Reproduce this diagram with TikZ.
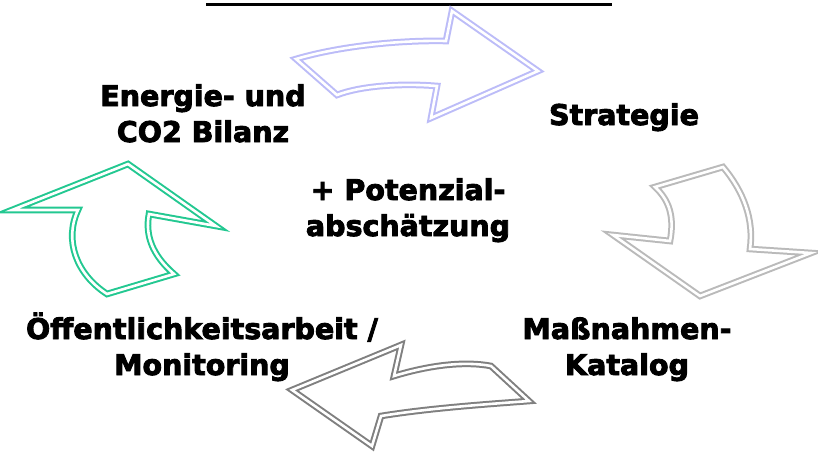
\documentclass[tikz,border=0pt]{standalone}
\usepackage{fontspec}
\setmainfont{DejaVu Sans}
\newfontfamily\heavyfont{DejaVu Sans Bold}[FakeBold=3]
\begin{document}
\begin{tikzpicture}[x=1pt,y=-1pt,
  arrowshape/.style={line width=2pt, double=white, double distance=2.6pt, line join=miter},
  label/.style={font=\heavyfont\fontsize{28.5}{36}\selectfont, align=center, anchor=base, inner sep=0pt}]
\definecolor{lav}{RGB}{188,188,248}
\definecolor{lgray}{RGB}{186,186,186}
\definecolor{dgray}{RGB}{128,128,128}
\definecolor{mint}{RGB}{35,200,145}
\useasboundingbox[fill=white] (0,0) rectangle (818,455);
% title underline (title text cut off at the top edge)
\draw[line width=3pt] (206,4) -- (612,4);
% top arrow
\draw[arrowshape, draw=lav] (296,59) .. controls (340,46) and (400,40) .. (446,41) -- (452,11) -- (538,71) -- (431,118) -- (437,86) .. controls (400,83) and (360,86) .. (337,95) -- cycle;
% right arrow
\draw[arrowshape, draw=lgray] (655,187) -- (723,167) .. controls (744,192) and (754,220) .. (750,249) -- (811,253) -- (700,296) -- (613,235) -- (670,241) .. controls (675,215) and (668,199) .. (655,187) -- cycle;
% bottom arrow
\draw[arrowshape, draw=dgray] (491,366) -- (529,401) .. controls (490,404) and (430,408) .. (381,416) -- (372,446) -- (292,390) -- (401,345) -- (394,376) .. controls (430,365) and (465,361) .. (491,366) -- cycle;
% left arrow
\draw[arrowshape, draw=mint] (107,294) -- (174,274) .. controls (152,255) and (145,235) .. (149,214) -- (216,226) -- (128,164) -- (12,210) -- (78,210) .. controls (64,240) and (76,274) .. (107,294) -- cycle;
% labels
\node[label] (bilanz) at (203,142) {Energie- und\\CO2 Bilanz};
\node[label] (strategie) at (624,125) {Strategie};
\node[label] (potenzial) at (408,236) {+ Potenzial-\\abschätzung};
\node[label] (katalog) at (627,375) {Maßnahmen-\\Katalog};
\node[label] (monitoring) at (202,375) {Öffentlichkeitsarbeit /\\Monitoring};
\end{tikzpicture}
\end{document}
